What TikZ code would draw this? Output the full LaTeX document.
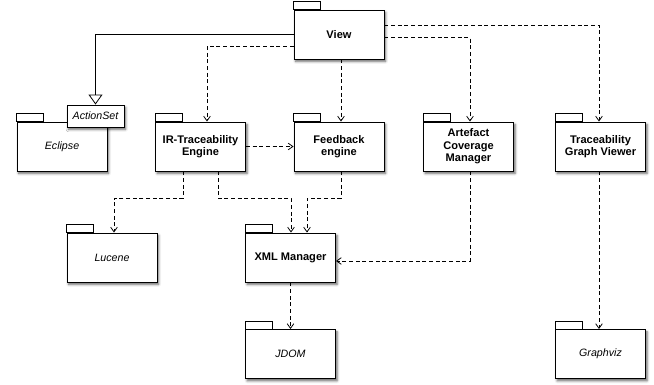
\documentclass[tikz,border=0pt]{standalone}
\usepackage{fontspec}
\setmainfont{Liberation Sans}
\usetikzlibrary{arrows.meta,calc,shadows.blur}

% Package boxes and dependencies
\tikzset{
  pkg/.style={draw, fill=white, line width=0.7pt, minimum width=67.5pt,
    minimum height=36.75pt, align=center, inner sep=2pt,
    font=\fontsize{8.3}{9.3}\selectfont\bfseries,
    blur shadow={shadow xshift=1.2pt, shadow yshift=-1.8pt,
      shadow blur radius=1.8pt, shadow opacity=60}},
  lib/.style={pkg, font=\fontsize{8}{9.3}\selectfont\itshape},
  tab/.style={draw, fill=white, line width=0.7pt},
  dep/.style={line width=0.6pt, dash pattern=on 3pt off 2pt,
    -{Straight Barb[length=3.5pt,width=5pt]}},
  gen/.style={line width=0.6pt, -{Triangle[open,length=7.5pt,width=10.5pt]}}
}

\begin{document}
\begin{tikzpicture}[x=0.75pt, y=-0.75pt]
  \useasboundingbox (0,0) rectangle (654,385);

  % Top level
  \node[pkg] (view) at (339,34.5) {View};

  % Middle row
  \node[lib] (eclipse) at (62,146.5) {Eclipse};
  \node[pkg] (ir)  at (200.5,146.5) {IR-Traceability\\Engine};
  \node[pkg] (fb)  at (339,146.5) {Feedback\\engine};
  \node[pkg] (art) at (468.5,146.5) {Artefact\\Coverage\\Manager};
  \node[pkg] (tgv) at (600.5,146.5) {Traceability\\Graph Viewer};

  % Lower rows
  \node[lib] (lucene) at (112,257.5) {Lucene};
  \node[pkg] (xml)    at (290.5,257.5) {XML Manager};
  \node[lib] (jdom)   at (290.5,354) {JDOM};
  \node[lib] (gviz)   at (600.5,354) {Graphviz};

  % Tabs
  \foreach \n in {view,eclipse,ir,fb,art,tgv,lucene,xml,jdom,gviz}
    \draw[tab] (\n.north west) rectangle ++(27,-8);

  % Class inside Eclipse
  \node[lib, minimum width=42.75pt, minimum height=16.5pt] (act)
    at (95.5,116) {ActionSet};

  % Generalization
  \draw[gen] (view.west) -| (act.north);

  % Dependencies from View
  \draw[dep] ($(view.west)+(0,11.5)$) -| ($(ir.north)+(6.5,0)$);
  \draw[dep] ($(view.south)+(2,0)$) -- ($(fb.north)+(2,0)$);
  \draw[dep] ($(view.east)+(0,3)$) -| ($(art.north)+(1.5,0)$);
  \draw[dep] ($(view.east)+(0,-9.5)$) -| ($(tgv.north)+(-1.5,0)$);

  % Dependencies in the middle
  \draw[dep] (ir.east) -- (fb.west);
  \draw[dep] ($(ir.south)+(-17.5,0)$) -- ++(0,27) -| ($(lucene.north)+(2,0)$);
  \draw[dep] ($(ir.south)+(17.5,0)$) -- ++(0,27) -| ($(xml.north)+(0.5,0)$);
  \draw[dep] ($(fb.south)+(2,0)$) -- ++(0,27) -| ($(xml.north)+(16.5,0)$);
  \draw[dep] ($(art.south)+(1.5,0)$) |- ($(xml.east)+(0,3.5)$);

  % Dependencies to the bottom
  \draw[dep] (xml.south) -- (jdom.north);
  \draw[dep] ($(tgv.south)+(-1.5,0)$) -- ($(gviz.north)+(-1.5,0)$);
\end{tikzpicture}
\end{document}
